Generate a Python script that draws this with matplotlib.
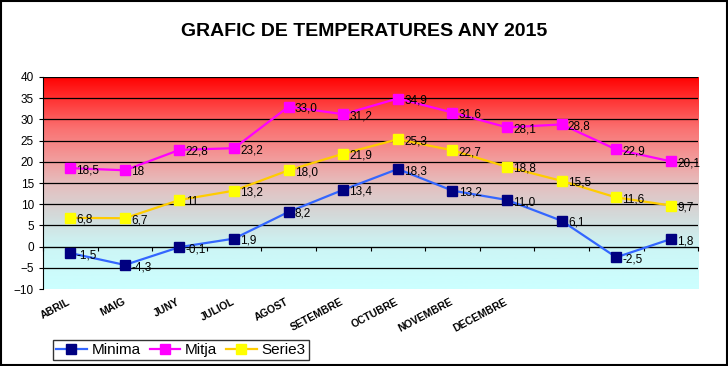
import numpy as np
import matplotlib.pyplot as plt
import matplotlib.transforms as mtransforms
from matplotlib.colors import LinearSegmentedColormap

plt.rcParams['font.family'] = ['Liberation Sans', 'DejaVu Sans']

months = ['ABRIL', 'MAIG', 'JUNY', 'JULIOL', 'AGOST', 'SETEMBRE', 'OCTUBRE',
          'NOVEMBRE', 'DECEMBRE', '', '', '']
minima = [-1.5, -4.3, -0.1, 1.9, 8.2, 13.4, 18.3, 13.2, 11.0, 6.1, -2.5, 1.8]
mitja = [18.5, 18, 22.8, 23.2, 33.0, 31.2, 34.9, 31.6, 28.1, 28.8, 22.9, 20.1]
serie3 = [6.8, 6.7, 11, 13.2, 18.0, 21.9, 25.3, 22.7, 18.8, 15.5, 11.6, 9.7]
minima_lbl = ['-1,5', '-4,3', '-0,1', '1,9', '8,2', '13,4', '18,3', '13,2', '11,0', '6,1', '-2,5', '1,8']
mitja_lbl = ['18,5', '18', '22,8', '23,2', '33,0', '31,2', '34,9', '31,6', '28,1', '28,8', '22,9', '20,1']
serie3_lbl = ['6,8', '6,7', '11', '13,2', '18,0', '21,9', '25,3', '22,7', '18,8', '15,5', '11,6', '9,7']

fig = plt.figure(figsize=(7.28, 3.66), dpi=100)
ax = fig.add_axes([0.059, 0.210, 0.900, 0.580])

# background gradient, red at top to light cyan at bottom
cmap = LinearSegmentedColormap.from_list('bg', [
    (0.0, (0.80, 1.00, 1.00)),
    (0.2, (0.80, 0.96, 0.96)),
    (0.35, (0.83, 0.85, 0.85)),
    (0.5, (0.90, 0.74, 0.74)),
    (0.62, (0.95, 0.60, 0.60)),
    (0.75, (0.98, 0.45, 0.45)),
    (0.88, (1.00, 0.22, 0.22)),
    (1.0, (1.00, 0.0, 0.0)),
])
grad = np.linspace(0, 1, 256).reshape(-1, 1)
ax.imshow(grad, cmap=cmap, aspect='auto', extent=[-0.5, 11.5, -10, 40],
          origin='lower', zorder=0)

x = np.arange(len(months))
ax.set_xlim(-0.5, 11.5)
ax.set_ylim(-10, 40)
ax.set_yticks(range(-10, 41, 5))
for v in range(-5, 41, 5):
    ax.axhline(v, color='black', lw=0.9, zorder=1)

ax.plot(x, minima, color='#3366FF', lw=1.6, marker='s', ms=6.5,
        mfc='#000080', mec='#000080', label='Minima', zorder=3)
ax.plot(x, mitja, color='#FF00FF', lw=1.6, marker='s', ms=6.5,
        mfc='#FF00FF', mec='#FF00FF', label='Mitja', zorder=3)
ax.plot(x, serie3, color='#FFCC00', lw=1.6, marker='s', ms=6.5,
        mfc='#FFFF00', mec='#FFFF00', label='Serie3', zorder=3)

for vals, lbls in [(minima, minima_lbl), (mitja, mitja_lbl), (serie3, serie3_lbl)]:
    for xi, v, s in zip(x, vals, lbls):
        ax.annotate(s, (xi, v), xytext=(4.5, -1.5), textcoords='offset points',
                    fontsize=8.5, va='center', ha='left', zorder=4)

# category axis crossing at zero
ax.spines['bottom'].set_position(('data', 0))
ax.spines['top'].set_visible(False)
ax.spines['right'].set_visible(False)
ax.set_xticks(np.arange(-0.5, 12, 1))
ax.set_xticklabels([])
ax.tick_params(axis='x', length=3, width=0.8)
ax.tick_params(axis='y', length=3, labelsize=8.5)

trans = mtransforms.blended_transform_factory(ax.transData, ax.transAxes)
for xi, m in zip(x, months):
    ax.text(xi - 0.05, -0.035, m, transform=trans, rotation=28, ha='right',
            va='top', rotation_mode='anchor', fontsize=7.5, fontweight='bold')

fig.text(0.5, 0.915, 'GRAFIC DE TEMPERATURES ANY 2015', ha='center',
         va='center', fontsize=14, fontweight='bold')

leg = ax.legend(loc='lower left', ncol=3, frameon=True,
                fancybox=False, edgecolor='black', fontsize=11,
                handlelength=2.0, handletextpad=0.3, columnspacing=0.6,
                borderpad=0.2, borderaxespad=0)
leg.set_bbox_to_anchor((0.073, 0.016), transform=fig.transFigure)
leg.get_frame().set_linewidth(1)

fig.patches.append(plt.Rectangle((0.001, 0.002), 0.997, 0.996, transform=fig.transFigure,
                                 fill=False, edgecolor='black', lw=1.5))

fig.savefig('out.png', dpi=100)
